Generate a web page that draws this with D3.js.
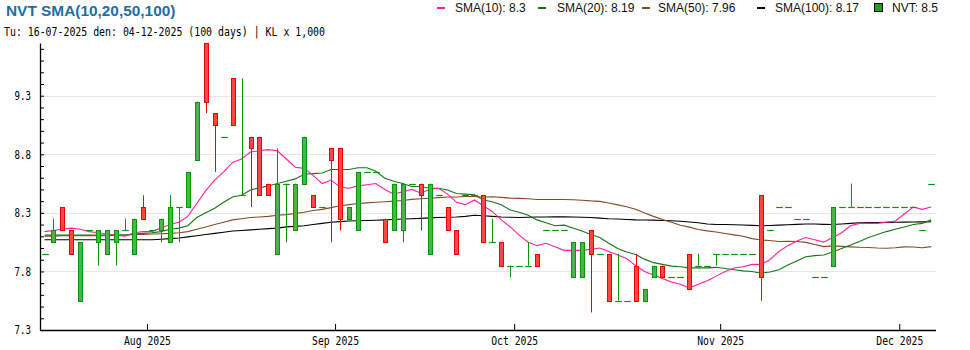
<!DOCTYPE html>
<html>
<head>
<meta charset="utf-8">
<script src="https://cdn.jsdelivr.net/npm/d3@7"></script>
<style>
  body { margin: 0; background: #fff; }
  svg { display: block; }
</style>
</head>
<body>
<svg id="chart" width="970" height="350"></svg>
<script>
// NVT daily prices (thousand VND), 100 trading days 16-07-2025 .. 04-12-2025
const open = [7.9,8.0,8.3,8.1,7.5,8.1,8.0,7.9,8.0,8.1, 7.9,8.3,8.1,8.1,8.0,8.3,8.3,8.7,9.7,9.1,
              8.9,9.4,8.4,8.9,8.9,8.5,7.9,8.5,8.1,8.5, 8.4,8.3,8.8,8.8,8.2,8.1,8.6,8.6,8.2,8.1,
              8.1,8.5,8.5,7.9,8.4,8.3,8.1,8.4,8.4,8.4, 8.0,8.0,7.8,7.8,7.8,7.9,8.1,8.1,8.1,7.7,
              7.7,8.1,7.9,7.9,7.5,7.5,7.8,7.5,7.7,7.8, 7.7,7.7,7.9,7.8,7.8,7.9,7.9,7.9,7.9,7.9,
              8.4,8.1,8.3,8.3,8.2,8.2,7.7,7.7,7.8,8.3, 8.3,8.3,8.3,8.3,8.3,8.3,8.3,8.3,8.1,8.5];
const high = [7.9,8.2,8.3,8.1,8.0,8.1,8.1,8.1,8.1,8.2, 8.2,8.4,8.1,8.2,8.4,8.3,8.6,9.2,9.7,9.1,
              8.9,9.4,9.4,8.9,8.9,8.5,8.8,8.5,8.5,8.9, 8.4,8.3,8.8,8.8,8.3,8.6,8.6,8.6,8.2,8.5,
              8.5,8.5,8.5,8.5,8.4,8.3,8.1,8.4,8.4,8.4, 8.2,8.0,7.8,7.8,8.0,7.9,8.1,8.1,8.1,8.0,
              8.0,8.1,7.9,7.9,7.9,7.5,7.9,7.6,7.8,7.8, 7.7,7.7,7.9,7.9,7.8,7.9,7.9,7.9,7.9,7.9,
              8.4,8.1,8.3,8.3,8.2,8.2,7.7,7.7,8.3,8.3, 8.5,8.3,8.3,8.3,8.3,8.3,8.3,8.3,8.1,8.5];
const low  = [7.9,8.0,8.1,7.9,7.5,8.1,7.8,7.9,7.8,8.1, 7.9,8.2,8.1,8.0,8.0,8.0,8.3,8.7,9.1,8.6,
              8.9,9.0,8.4,8.3,8.4,8.4,7.9,8.0,8.1,8.5, 8.3,8.3,8.0,8.1,8.2,8.1,8.6,8.6,8.0,8.1,
              8.0,8.5,8.1,7.9,8.4,8.1,7.9,8.4,8.4,8.0, 8.0,7.8,7.7,7.8,7.8,7.8,8.1,8.1,8.1,7.7,
              7.7,7.4,7.9,7.5,7.5,7.5,7.5,7.5,7.7,7.7, 7.7,7.7,7.6,7.8,7.8,7.8,7.9,7.9,7.9,7.9,
              7.5,8.1,8.3,8.3,8.2,8.2,7.7,7.7,7.8,8.3, 8.3,8.3,8.3,8.3,8.3,8.3,8.3,8.3,8.1,8.5];
const close = [7.9,8.1,8.1,7.9,8.0,8.1,8.1,8.1,8.1,8.1, 8.2,8.2,8.1,8.2,8.3,8.3,8.6,9.2,9.2,9.0,
               8.9,9.0,8.4,8.8,8.4,8.4,8.5,8.5,8.5,8.9, 8.3,8.3,8.7,8.2,8.3,8.6,8.6,8.6,8.0,8.5,
               8.5,8.5,8.4,8.5,8.4,8.1,7.9,8.4,8.4,8.0, 8.0,7.8,7.8,7.8,7.8,7.8,8.1,8.1,8.1,8.0,
               8.0,7.9,7.9,7.5,7.5,7.5,7.5,7.6,7.8,7.7, 7.7,7.7,7.6,7.8,7.8,7.9,7.9,7.9,7.9,7.9,
               7.7,8.1,8.3,8.3,8.2,8.2,7.7,7.7,8.3,8.3, 8.3,8.3,8.3,8.3,8.3,8.3,8.3,8.3,8.1,8.5];

// Moving-average values for the days whose window reaches back before 16-07-2025
const sma10Head = [8.09,8.10,8.11,8.12,8.11,8.09,8.08,8.07,8.06];
const sma20Head = [8.06,8.06,8.06,8.06,8.06,8.06,8.06,8.06,8.06,8.06,
                   8.07,8.075,8.08,8.09,8.11,8.12,8.14,8.21,8.25];
const sma50Head = [8.05,8.05,8.055,8.055,8.055,8.055,8.055,8.055,8.06,8.06,
                   8.065,8.065,8.07,8.072,8.075,8.08,8.09,8.11,8.13,8.15,
                   8.17,8.19,8.20,8.21,8.215,8.22,8.23,8.235,8.245,8.255,
                   8.27,8.28,8.295,8.31,8.32,8.33,8.335,8.34,8.345,8.35,
                   8.355,8.365,8.37,8.375,8.38,8.385,8.385,8.39,8.39];
const sma100 = [8.02,8.02,8.02,8.02,8.02,8.02,8.02,8.02,8.02,8.02,
                8.02,8.02,8.02,8.025,8.03,8.035,8.045,8.055,8.065,8.075,
                8.085,8.095,8.10,8.105,8.11,8.115,8.12,8.13,8.135,8.14,
                8.15,8.16,8.17,8.175,8.18,8.183,8.185,8.187,8.19,8.193,
                8.197,8.20,8.203,8.207,8.21,8.213,8.215,8.22,8.23,8.225,
                8.22,8.215,8.212,8.21,8.212,8.214,8.215,8.216,8.216,8.215,
                8.212,8.21,8.205,8.20,8.197,8.193,8.19,8.189,8.188,8.185,
                8.182,8.178,8.172,8.165,8.155,8.15,8.15,8.148,8.146,8.143,
                8.14,8.142,8.145,8.148,8.152,8.155,8.155,8.152,8.15,8.155,
                8.16,8.165,8.167,8.168,8.169,8.17,8.171,8.172,8.173,8.174];

// Month labels and the trading-day index where each month starts
const tickLabels = ["Aug 2025", "Sep 2025", "Oct 2025", "Nov 2025", "Dec 2025"];
const tickDays = [12, 33, 53, 76, 96];
const priceLabels = [7.3, 7.8, 8.3, 8.8, 9.3];

// Rolling mean of closes, using the supplied head where the window is incomplete
function movingAverage(n, head) {
  return close.map((_, i) => i < n - 1 ? head[i] : d3.mean(close.slice(i - n + 1, i + 1)));
}
const sma10 = movingAverage(10, sma10Head);
const sma20 = movingAverage(20, sma20Head);
const sma50 = movingAverage(50, sma50Head);

const svg = d3.select("#chart");
const L = 40, R = 936, T = 43, B = 330;

// price scale; axis labels sit half a price step (0.05) above the plotted level
const y = d3.scaleLinear().domain([7.25, 9.70]).range([B, T]);
const yAxisScale = d3.scaleLinear().domain([7.30, 9.75]).range([B, T]);
const xl = d3.scaleLinear().domain([0, 100]).range([39.5, 935.1]);
const cx = i => xl(i + 0.56);

const GREEN = "#0b930b", GREEN_FILL = "#46b746", RED = "#f00000", RED_FILL = "#ff4646";

// horizontal grid
svg.append("g").selectAll("line")
  .data(priceLabels.slice(1))
  .join("line")
  .attr("x1", L).attr("x2", R)
  .attr("y1", d => Math.round(yAxisScale(d)) + 0.5)
  .attr("y2", d => Math.round(yAxisScale(d)) + 0.5)
  .attr("stroke", "#e6e6e6").attr("stroke-width", 1.2);

// moving averages
const line = d3.line().x((d, i) => cx(i)).y(d => y(d));
const smaSeries = [
  { name: "SMA(10)", values: sma10, color: "#ff1f9e", width: 1.1, lx: 437, tx: 455 },
  { name: "SMA(20)", values: sma20, color: "#127a12", width: 1.1, lx: 538, tx: 557 },
  { name: "SMA(50)", values: sma50, color: "#8b4826", width: 1.1, lx: 642, tx: 658 },
  { name: "SMA(100)", values: sma100, color: "#000000", width: 1.1, lx: 757, tx: 775 }
];
svg.append("g").selectAll("path")
  .data(smaSeries.slice().reverse())
  .join("path")
  .attr("d", s => line(s.values))
  .attr("fill", "none")
  .attr("stroke", s => s.color)
  .attr("stroke-width", s => s.width);

// candles
const days = d3.range(close.length);
const candles = svg.append("g").selectAll("g").data(days).join("g");
const isUp = i => close[i] >= open[i];
const px = i => Math.round(cx(i));

candles.filter(i => high[i] !== low[i])
  .append("line")
  .attr("x1", i => px(i) + 0.5).attr("x2", i => px(i) + 0.5)
  .attr("y1", i => y(high[i])).attr("y2", i => y(low[i]))
  .attr("stroke", i => isUp(i) ? GREEN : RED).attr("stroke-width", 1);

candles.filter(i => open[i] !== close[i])
  .append("rect")
  .attr("x", i => px(i) - 1.5)
  .attr("width", 4)
  .attr("y", i => Math.round(y(Math.max(open[i], close[i]))) + 0.5)
  .attr("height", i => Math.round(y(Math.min(open[i], close[i]))) - Math.round(y(Math.max(open[i], close[i]))))
  .attr("fill", i => isUp(i) ? GREEN_FILL : RED_FILL)
  .attr("stroke", i => isUp(i) ? GREEN : RED)
  .attr("stroke-width", 1);

candles.filter(i => open[i] === close[i])
  .append("line")
  .attr("x1", i => px(i) - 2.8).attr("x2", i => px(i) + 3.8)
  .attr("y1", i => Math.round(y(close[i])) + 0.5)
  .attr("y2", i => Math.round(y(close[i])) + 0.5)
  .attr("stroke", GREEN).attr("stroke-width", 1.2);

// axes
const monoFont = "'DejaVu Sans Mono', 'Liberation Mono', monospace";
const yAxis = d3.axisLeft(yAxisScale)
  .tickValues(d3.range(73, 98).map(d => d / 10))
  .tickSize(-4).tickSizeOuter(0).tickPadding(9)
  .tickFormat(d => priceLabels.some(p => Math.abs(p - d) < 1e-6) ? d.toFixed(1) : "");
const gy = svg.append("g").attr("transform", `translate(${L},0)`).call(yAxis);
gy.selectAll("text").attr("font-family", monoFont).attr("font-size", 12)
  .attr("fill", "#000").attr("textLength", 16.5).attr("lengthAdjust", "spacingAndGlyphs");
gy.select(".domain").attr("stroke", "#000").attr("stroke-width", 1.3);
gy.selectAll(".tick line").attr("stroke", "#000");

const xAxis = d3.axisBottom(xl)
  .tickValues(tickDays)
  .tickFormat((d, i) => tickLabels[i])
  .tickSize(-6).tickSizeOuter(0).tickPadding(6.5);
const gx = svg.append("g").attr("transform", `translate(0,${B})`).call(xAxis);
gx.select(".domain").attr("d", `M${L},0.5H${R}`).attr("stroke", "#000").attr("stroke-width", 1.3);
gx.selectAll("text").attr("font-family", monoFont).attr("font-size", 12)
  .attr("fill", "#000").attr("textLength", 47).attr("lengthAdjust", "spacingAndGlyphs");
gx.selectAll(".tick line").attr("stroke", "#000");

// title and period
svg.append("text")
  .attr("x", 6).attr("y", 16)
  .attr("font-family", "'Liberation Sans', Arial, sans-serif")
  .attr("font-weight", "bold").attr("font-size", 15.4)
  .attr("fill", "#1d6ea3")
  .text("NVT SMA(10,20,50,100)");
svg.append("text")
  .attr("x", 4).attr("y", 35.5)
  .attr("font-family", monoFont).attr("font-size", 12)
  .attr("textLength", 321).attr("lengthAdjust", "spacingAndGlyphs")
  .attr("fill", "#000")
  .text("Tu: 16-07-2025 den: 04-12-2025 (100 days) | KL x 1,000");

// legend
const fmt = v => String(+v.toFixed(2));
const legend = svg.append("g")
  .attr("font-family", "'Liberation Sans', Arial, sans-serif")
  .attr("font-size", 12);
smaSeries.forEach(s => {
  legend.append("line")
    .attr("x1", s.lx).attr("x2", s.lx + 8).attr("y1", 8).attr("y2", 8)
    .attr("stroke", s.color).attr("stroke-width", 2);
  legend.append("text").attr("x", s.tx).attr("y", 12)
    .attr("fill", "#111").text(`${s.name}: ${fmt(s.values[s.values.length - 1])}`);
});
legend.append("rect")
  .attr("x", 874.5).attr("y", 3.5).attr("width", 8).attr("height", 8)
  .attr("fill", "#1f9f1f").attr("stroke", "#000").attr("stroke-width", 1);
legend.append("text").attr("x", 892).attr("y", 12)
  .attr("fill", "#111").text(`NVT: ${fmt(close[close.length - 1])}`);
</script>
</body>
</html>
